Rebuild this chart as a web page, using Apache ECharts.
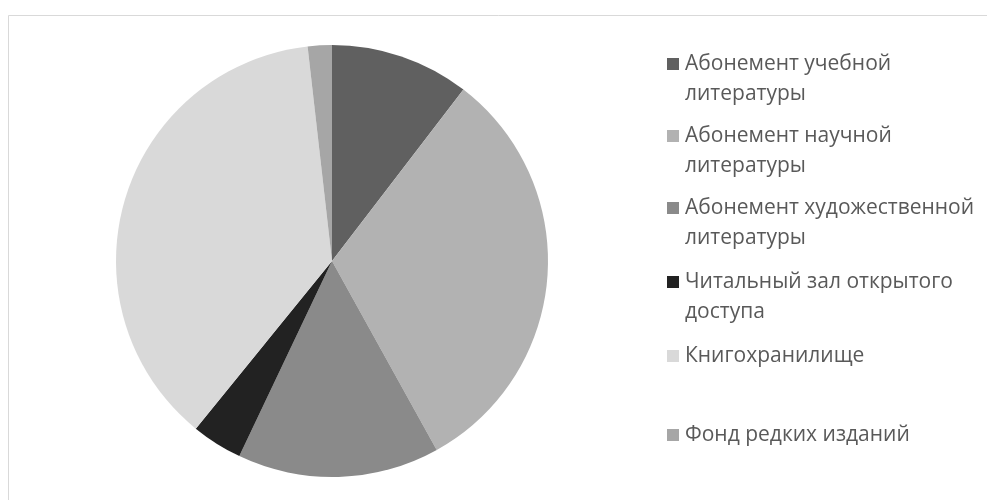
<!DOCTYPE html>
<html>
<head>
<meta charset="utf-8">
<script src="https://cdn.jsdelivr.net/npm/echarts@6/dist/echarts.min.js"></script>
<style>
html,body{margin:0;padding:0;background:#fff;}
#chart{width:987px;height:500px;}
</style>
</head>
<body>
<div id="chart"></div>
<script>
const categories = [
  'Абонемент учебной литературы',
  'Абонемент научной литературы',
  'Абонемент художественной литературы',
  'Читальный зал открытого доступа',
  'Книгохранилище',
  'Фонд редких изданий'
];
const legendLabels = [
  'Абонемент учебной\nлитературы',
  'Абонемент научной\nлитературы',
  'Абонемент художественной\nлитературы',
  'Читальный зал открытого\nдоступа',
  'Книгохранилище',
  'Фонд редких изданий'
];
const values = [10.4, 31.5, 15.1, 3.8, 37.3, 1.8];
const colors = ['#606060', '#b2b2b2', '#8a8a8a', '#222222', '#d9d9d9', '#a6a6a6'];

const legendTops = [44, 116, 188, 262, 336, 415];
const twoLineIcon = 'path://M0,0h12v0.01h-12z M0,9h12v12h-12z M0,59.99h12v0.01h-12z';

const legends = categories.map((name, i) => {
  const twoLine = legendLabels[i].indexOf('\n') >= 0;
  return {
    left: 662,
    top: legendTops[i],
    orient: 'vertical',
    selectedMode: false,
    itemWidth: 12,
    itemHeight: twoLine ? 60 : 12,
    icon: twoLine ? twoLineIcon : 'rect',
    data: [name],
    formatter: () => legendLabels[i],
    textStyle: {
      color: '#595959',
      fontFamily: 'Open Sans',
      fontSize: 21,
      lineHeight: 30,
      padding: [0, 0, 0, 1]
    }
  };
});

const chart = echarts.init(document.getElementById('chart'), null, {renderer: 'canvas'});
chart.setOption({
  animation: false,
  backgroundColor: '#ffffff',
  color: colors,
  graphic: [{
    type: 'rect',
    shape: {x: 8.5, y: 15.5, width: 1000, height: 520},
    style: {fill: 'none', stroke: '#d9d9d9', lineWidth: 1},
    silent: true
  }],
  legend: legends,
  series: [{
    type: 'pie',
    center: [332, 261],
    radius: 216,
    startAngle: 90,
    clockwise: true,
    label: {show: false},
    labelLine: {show: false},
    itemStyle: {borderWidth: 0},
    emphasis: {disabled: true},
    data: categories.map((name, i) => ({name: name, value: values[i]}))
  }]
});
</script>
</body>
</html>
